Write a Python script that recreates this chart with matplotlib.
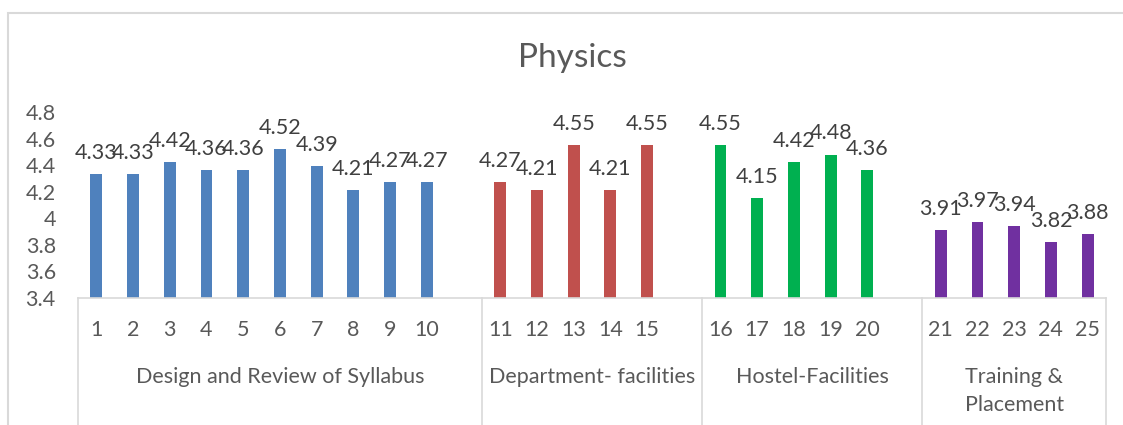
import numpy as np
import matplotlib.pyplot as plt
from matplotlib.patches import Rectangle
import matplotlib.transforms as mtransforms

plt.rcParams['font.family'] = ['Lato', 'DejaVu Sans']

# data
groups = ['Design and Review of Syllabus', 'Department- facilities',
          'Hostel-Facilities', 'Training &\nPlacement']
design = [4.33, 4.33, 4.42, 4.36, 4.36, 4.52, 4.39, 4.21, 4.27, 4.27]
department = [4.27, 4.21, 4.55, 4.21, 4.55]
hostel = [4.55, 4.15, 4.42, 4.48, 4.36]
training = [3.91, 3.97, 3.94, 3.82, 3.88]
series = [design, department, hostel, training]
colors = ['#4F81BD', '#C0504D', '#00B050', '#7030A0']
yticks = [3.4, 3.6, 3.8, 4.0, 4.2, 4.4, 4.6, 4.8]

W, H = 1123, 425
fig = plt.figure(figsize=(W / 100, H / 100), dpi=100)
ax = fig.add_axes([78 / W, 127 / H, 1028 / W, 186 / H])

txt = '#595959'
line_c = '#D9D9D9'
fs = 15.5
trans = mtransforms.blended_transform_factory(ax.transData, ax.transAxes)

# slots: each group then one empty slot (except the last)
start = 0
bounds = [0]
num = 1
for i, vals in enumerate(series):
    xs = np.arange(len(vals)) + start + 0.5
    ax.bar(xs, vals, width=0.32, color=colors[i], bottom=0)
    for x, v in zip(xs, vals):
        ax.annotate(f'{v:g}', (x, v), xytext=(0, 8), textcoords='offset points',
                    ha='center', va='bottom', fontsize=fs, color='#404040')
        ax.text(x, -0.172, str(num), transform=trans, ha='center', va='center',
                fontsize=fs, color=txt)
        num += 1
    end = start + len(vals) + (1 if i < len(series) - 1 else 0)
    ax.text((start + end) / 2, -0.37, groups[i], transform=trans, ha='center',
            va='top', fontsize=fs, color=txt, linespacing=1.5)
    bounds.append(end)
    start = end

for b in bounds:
    ax.plot([b, b], [0, -1], transform=trans, color=line_c, lw=1.2, clip_on=False)

ax.set_xlim(0, bounds[-1])
ax.set_ylim(3.4, 4.8)
ax.set_yticks(yticks)
ax.set_yticklabels([f'{v:g}' for v in yticks])
ax.tick_params(axis='y', length=0, pad=16, labelsize=fs, labelcolor=txt)
ax.set_xticks([])
for s in ['top', 'right', 'left']:
    ax.spines[s].set_visible(False)
ax.spines['bottom'].set_color(line_c)
ax.spines['bottom'].set_linewidth(1.2)

# chart border
fig.patches.append(Rectangle((8 / W, -0.5), 2, 0.5 + 1 - 13 / H, transform=fig.transFigure,
                             fill=False, edgecolor=line_c, lw=1.5))

fig.text(572 / W, 1 - 58 / H, 'Physics', ha='center', va='center', fontsize=24, color=txt)

fig.savefig('out.png', dpi=100)
